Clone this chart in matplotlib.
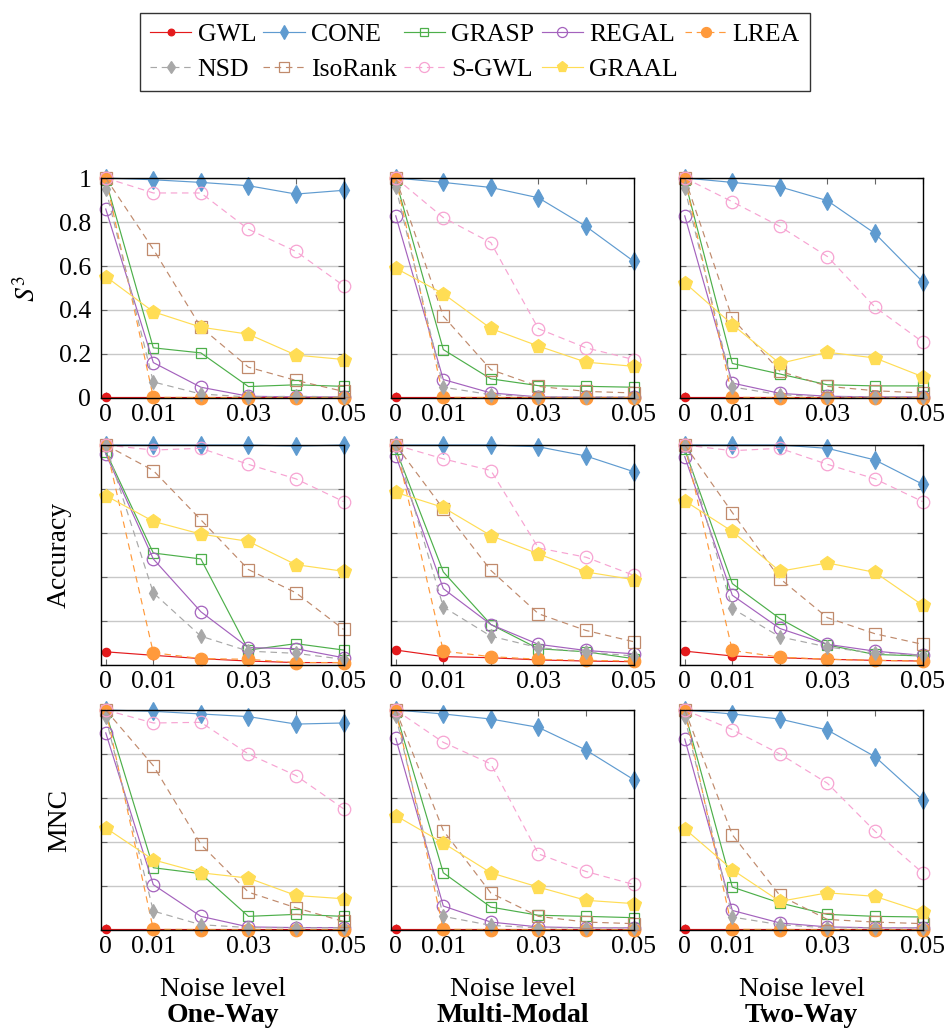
import matplotlib
matplotlib.use("Agg")
import matplotlib.pyplot as plt

plt.rcParams['font.family'] = ['Liberation Serif', 'DejaVu Serif']
plt.rcParams['mathtext.fontset'] = 'stix'

noise = [0, 0.01, 0.02, 0.03, 0.04, 0.05]
xtick_vals = [0, 0.01, 0.02, 0.03, 0.04, 0.05]
xtick_labels = ["0", "0.01", "", "0.03", "", "0.05"]
ytick_vals = [0, 0.2, 0.4, 0.6, 0.8, 1]
ytick_labels = ["0", "0.2", "0.4", "0.6", "0.8", "1"]

methods = ["GWL", "CONE", "GRASP", "REGAL", "LREA", "NSD", "IsoRank", "S-GWL", "GRAAL"]
settings = ["One-Way", "Multi-Modal", "Two-Way"]
metrics = ["$S^3$", "Accuracy", "MNC"]

# ---- S3 ----
s3_oneway = {
    "GWL":     [0.005, 0.005, 0.005, 0.005, 0.005, 0.005],
    "CONE":    [1.0, 0.992, 0.98, 0.965, 0.927, 0.944],
    "GRASP":   [0.99, 0.228, 0.205, 0.052, 0.06, 0.053],
    "REGAL":   [0.859, 0.161, 0.049, 0.008, 0.005, 0.005],
    "LREA":    [1.0, 0.003, 0.002, 0.002, 0.002, 0.002],
    "NSD":     [0.95, 0.073, 0.018, 0.005, 0.008, 0.005],
    "IsoRank": [1.0, 0.676, 0.322, 0.14, 0.08, 0.03],
    "S-GWL":   [1.0, 0.932, 0.932, 0.767, 0.666, 0.511],
    "GRAAL":   [0.552, 0.392, 0.322, 0.29, 0.195, 0.175],
}
s3_multimodal = {
    "GWL":     [0.005, 0.005, 0.005, 0.005, 0.005, 0.005],
    "CONE":    [1.0, 0.98, 0.957, 0.91, 0.78, 0.622],
    "GRASP":   [0.99, 0.22, 0.087, 0.056, 0.053, 0.049],
    "REGAL":   [0.828, 0.084, 0.023, 0.005, 0.003, 0.003],
    "LREA":    [1.0, 0.003, 0.002, 0.002, 0.002, 0.002],
    "NSD":     [0.96, 0.049, 0.015, 0.005, 0.005, 0.005],
    "IsoRank": [1.0, 0.372, 0.129, 0.053, 0.03, 0.023],
    "S-GWL":   [1.0, 0.82, 0.706, 0.315, 0.228, 0.175],
    "GRAAL":   [0.59, 0.474, 0.316, 0.236, 0.163, 0.144],
}
s3_twoway = {
    "GWL":     [0.005, 0.005, 0.005, 0.005, 0.005, 0.005],
    "CONE":    [1.0, 0.98, 0.96, 0.897, 0.748, 0.529],
    "GRASP":   [0.99, 0.157, 0.109, 0.06, 0.055, 0.055],
    "REGAL":   [0.828, 0.068, 0.021, 0.008, 0.005, 0.005],
    "LREA":    [1.0, 0.003, 0.002, 0.002, 0.002, 0.002],
    "NSD":     [0.955, 0.05, 0.015, 0.005, 0.005, 0.005],
    "IsoRank": [1.0, 0.362, 0.122, 0.053, 0.033, 0.023],
    "S-GWL":   [1.0, 0.892, 0.78, 0.643, 0.413, 0.255],
    "GRAAL":   [0.524, 0.334, 0.157, 0.208, 0.182, 0.097],
}
# ---- Accuracy ----
acc_oneway = {
    "GWL":     [0.06, 0.044, 0.029, 0.018, 0.011, 0.011],
    "CONE":    [1.0, 1.0, 1.0, 1.0, 0.995, 1.0],
    "GRASP":   [0.97, 0.509, 0.482, 0.068, 0.097, 0.068],
    "REGAL":   [0.959, 0.482, 0.242, 0.079, 0.074, 0.033],
    "LREA":    [1.0, 0.056, 0.029, 0.026, 0.011, 0.011],
    "NSD":     [1.0, 0.328, 0.131, 0.063, 0.053, 0.026],
    "IsoRank": [1.0, 0.884, 0.66, 0.434, 0.328, 0.162],
    "S-GWL":   [1.0, 0.977, 0.985, 0.912, 0.846, 0.743],
    "GRAAL":   [0.77, 0.653, 0.595, 0.562, 0.456, 0.426],
}
acc_multimodal = {
    "GWL":     [0.068, 0.038, 0.033, 0.023, 0.018, 0.015],
    "CONE":    [1.0, 1.0, 1.0, 0.992, 0.95, 0.879],
    "GRASP":   [0.98, 0.423, 0.184, 0.074, 0.06, 0.029],
    "REGAL":   [0.952, 0.347, 0.184, 0.094, 0.066, 0.051],
    "LREA":    [1.0, 0.063, 0.038, 0.026, 0.021, 0.018],
    "NSD":     [1.0, 0.264, 0.131, 0.079, 0.059, 0.041],
    "IsoRank": [1.0, 0.71, 0.43, 0.233, 0.157, 0.106],
    "S-GWL":   [1.0, 0.937, 0.884, 0.532, 0.49, 0.408],
    "GRAAL":   [0.785, 0.716, 0.588, 0.505, 0.423, 0.388],
}
acc_twoway = {
    "GWL":     [0.063, 0.041, 0.033, 0.026, 0.021, 0.018],
    "CONE":    [1.0, 1.0, 1.0, 0.985, 0.932, 0.822],
    "GRASP":   [0.98, 0.37, 0.211, 0.091, 0.048, 0.041],
    "REGAL":   [0.947, 0.317, 0.166, 0.094, 0.063, 0.044],
    "LREA":    [1.0, 0.066, 0.036, 0.026, 0.021, 0.018],
    "NSD":     [1.0, 0.257, 0.128, 0.082, 0.053, 0.044],
    "IsoRank": [1.0, 0.693, 0.393, 0.215, 0.142, 0.094],
    "S-GWL":   [1.0, 0.974, 0.985, 0.912, 0.846, 0.743],
    "GRAAL":   [0.746, 0.607, 0.426, 0.464, 0.421, 0.272],
}
# ---- MNC ----
mnc_oneway = {
    "GWL":     [0.005, 0.005, 0.005, 0.005, 0.005, 0.005],
    "CONE":    [1.0, 0.994, 0.982, 0.97, 0.936, 0.941],
    "GRASP":   [0.99, 0.283, 0.256, 0.062, 0.071, 0.062],
    "REGAL":   [0.896, 0.206, 0.062, 0.014, 0.011, 0.011],
    "LREA":    [1.0, 0.003, 0.002, 0.002, 0.002, 0.002],
    "NSD":     [0.967, 0.086, 0.024, 0.011, 0.01, 0.01],
    "IsoRank": [1.0, 0.747, 0.389, 0.172, 0.101, 0.039],
    "S-GWL":   [1.0, 0.941, 0.944, 0.8, 0.702, 0.551],
    "GRAAL":   [0.464, 0.319, 0.26, 0.236, 0.157, 0.142],
}
mnc_multimodal = {
    "GWL":     [0.005, 0.005, 0.005, 0.005, 0.005, 0.005],
    "CONE":    [1.0, 0.982, 0.959, 0.921, 0.818, 0.684],
    "GRASP":   [0.99, 0.26, 0.104, 0.067, 0.062, 0.056],
    "REGAL":   [0.871, 0.109, 0.036, 0.014, 0.01, 0.01],
    "LREA":    [1.0, 0.003, 0.002, 0.002, 0.002, 0.002],
    "NSD":     [0.974, 0.062, 0.021, 0.01, 0.01, 0.01],
    "IsoRank": [1.0, 0.452, 0.168, 0.062, 0.036, 0.029],
    "S-GWL":   [1.0, 0.853, 0.755, 0.346, 0.266, 0.207],
    "GRAAL":   [0.52, 0.395, 0.26, 0.195, 0.135, 0.12],
}
mnc_twoway = {
    "GWL":     [0.005, 0.005, 0.005, 0.005, 0.005, 0.005],
    "CONE":    [1.0, 0.982, 0.959, 0.909, 0.788, 0.592],
    "GRASP":   [0.99, 0.195, 0.123, 0.071, 0.062, 0.059],
    "REGAL":   [0.868, 0.089, 0.032, 0.014, 0.01, 0.01],
    "LREA":    [1.0, 0.003, 0.002, 0.002, 0.002, 0.002],
    "NSD":     [0.967, 0.059, 0.024, 0.01, 0.01, 0.01],
    "IsoRank": [1.0, 0.433, 0.157, 0.048, 0.036, 0.029],
    "S-GWL":   [1.0, 0.911, 0.8, 0.667, 0.449, 0.26],
    "GRAAL":   [0.46, 0.274, 0.13, 0.169, 0.153, 0.082],
}

grid_data = [
    [s3_oneway, s3_multimodal, s3_twoway],
    [acc_oneway, acc_multimodal, acc_twoway],
    [mnc_oneway, mnc_multimodal, mnc_twoway],
]

styles = {
    "GWL":     dict(color="#e41a1c", ls="-",  marker="o", ms=6,   mfc="#e41a1c"),
    "CONE":    dict(color="#5f9bd0", ls="-",  marker="d", ms=9,   mfc="#5f9bd0"),
    "GRASP":   dict(color="#4daf4a", ls="-",  marker="s", ms=7,   mfc="none"),
    "REGAL":   dict(color="#a462bd", ls="-",  marker="o", ms=9,   mfc="none"),
    "LREA":    dict(color="#ff9a3c", ls="--", marker="o", ms=9,   mfc="#ff9a3c"),
    "NSD":     dict(color="#a8a8a8", ls="--", marker="d", ms=7.5, mfc="#a8a8a8"),
    "IsoRank": dict(color="#c08a6c", ls="--", marker="s", ms=9,   mfc="none"),
    "S-GWL":   dict(color="#f7a3d2", ls="--", marker="o", ms=9,   mfc="none"),
    "GRAAL":   dict(color="#ffdd55", ls="-",  marker="p", ms=10,  mfc="#ffdd55"),
}

W, H = 947, 1032
fig = plt.figure(figsize=(W / 100, H / 100), dpi=100)

col_left = [101, 391, 680]
col_w = 243
row_top = [178, 445, 710]
row_h = 220

tick_fs = 18.5
label_fs = 20
axes_grid = []
for r in range(3):
    row_axes = []
    for c in range(3):
        ax = fig.add_axes([col_left[c] / W, 1 - (row_top[r] + row_h) / H, col_w / W, row_h / H])
        d = grid_data[r][c]
        for m in methods:
            st = styles[m]
            line, = ax.plot(noise, d[m], color=st["color"], marker=st["marker"], ms=st["ms"],
                            mfc=st["mfc"], mec=st["color"], mew=0.9, lw=0.85, label=m,
                            clip_on=False)
            if st["ls"] == "--":
                line.set_linestyle((0, (5.5, 4)))
        ax.set_xlim(-0.001, 0.0501)
        ax.set_ylim(0, 1)
        ax.set_xticks(xtick_vals)
        ax.set_xticklabels(xtick_labels)
        ax.set_yticks(ytick_vals)
        if r == 0 and c == 0:
            ax.set_yticklabels(ytick_labels)
        else:
            ax.set_yticklabels([])
        ax.yaxis.grid(True, color="#c8c8c8", lw=1.0)
        ax.set_axisbelow(True)
        ax.tick_params(axis="both", direction="in", length=4, width=0.8, color="#666666",
                       top=True, right=True, labelsize=tick_fs)
        ax.tick_params(axis="x", pad=4)
        ax.tick_params(axis="y", pad=7)
        for s in ax.spines.values():
            s.set_linewidth(1.0)
            s.set_color("black")
            s.set_zorder(5)
        if c == 0:
            ax.set_ylabel(metrics[r], fontsize=label_fs)
            if r == 0:
                ax.yaxis.set_label_coords(-0.245, 0.5)
            else:
                ax.yaxis.set_label_coords(-0.12, 0.5)
        row_axes.append(ax)
    axes_grid.append(row_axes)

for c in range(3):
    cx = (col_left[c] + col_w / 2) / W
    fig.text(cx, 1 - 989 / H, "Noise level", ha="center", va="center", fontsize=label_fs)
    fig.text(cx, 1 - 1016 / H, settings[c], ha="center", va="center", fontsize=label_fs,
             fontweight="bold")

handles, labels = axes_grid[0][0].get_legend_handles_labels()
order = ["GWL", "NSD", "CONE", "IsoRank", "GRASP", "S-GWL", "REGAL", "GRAAL", "LREA"]
hmap = dict(zip(labels, handles))
leg = fig.legend([hmap[k] for k in order], order, loc="upper center",
                 bbox_to_anchor=(475 / W, 1 - 13 / H), ncol=5, fontsize=18.5,
                 frameon=True, fancybox=False, edgecolor="#333333", framealpha=1,
                 handlelength=1.6, handletextpad=0.25, columnspacing=0.28,
                 borderpad=0.4, labelspacing=0.45, borderaxespad=0)
leg.get_frame().set_linewidth(1.0)
for lh in leg.legend_handles:
    lh.set_markersize(lh.get_markersize() * 0.8)

fig.savefig("out.png", dpi=100)
